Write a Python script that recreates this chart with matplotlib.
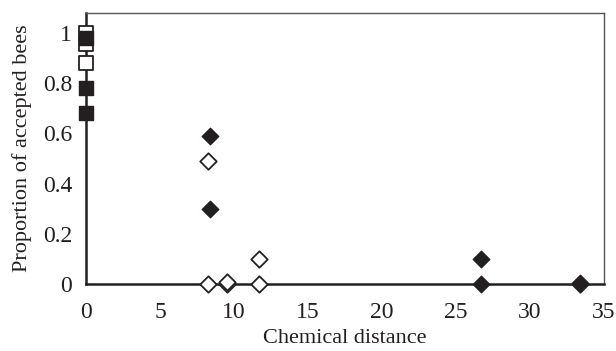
import matplotlib
matplotlib.use('Agg')
import matplotlib.pyplot as plt

# filled squares / open squares at distance 0
sq_filled_x = [0, 0, 0]
sq_filled_y = [0.98, 0.78, 0.68]
sq_open_x = [0, 0, 0]
sq_open_y = [1.0, 0.955, 0.88]

# diamonds
dia_filled_x = [8.4, 8.4, 26.7, 26.7, 33.4]
dia_filled_y = [0.59, 0.30, 0.10, 0.0, 0.005]
dia_open_x = [8.25, 8.25, 9.5, 9.55, 11.7, 11.7, 33.4]
dia_open_y = [0.49, 0.0, 0.0, 0.008, 0.10, 0.0, 0.0]

xticks = [0, 5, 10, 15, 20, 25, 30, 35]
yticks = [0, 0.2, 0.4, 0.6, 0.8, 1]
ytick_labels = ['0', '0.2', '0.4', '0.6', '0.8', '1']

plt.rcParams['font.family'] = ['Liberation Serif', 'DejaVu Serif']

fig = plt.figure(figsize=(6.16, 3.51), dpi=100)
ax = fig.add_axes([86 / 616, 67 / 351, (604 - 86) / 616, (284 - 13) / 351])

dark = '#231f20'
ax.scatter(dia_open_x, dia_open_y, marker='D', s=70, facecolors='white',
           edgecolors=dark, linewidths=1.3, zorder=3, clip_on=False)
ax.scatter(dia_filled_x, dia_filled_y, marker='D', s=70, facecolors=dark,
           edgecolors=dark, linewidths=1.0, zorder=4, clip_on=False)
ax.scatter(sq_open_x, sq_open_y, marker='s', s=110, facecolors='white',
           edgecolors=dark, linewidths=1.3, zorder=3, clip_on=False)
ax.scatter(sq_filled_x, sq_filled_y, marker='s', s=110, facecolors=dark,
           edgecolors=dark, linewidths=1.0, zorder=4, clip_on=False)

ax.set_xlim(0, 35)
ax.set_ylim(0, 1.08)
ax.set_xticks(xticks)
ax.set_yticks(yticks)
ax.set_yticklabels(ytick_labels)
ax.tick_params(length=0, labelsize=17, colors=dark)
ax.tick_params(axis='x', pad=13)
ax.tick_params(axis='y', pad=10)

for side in ['left', 'bottom']:
    ax.spines[side].set_linewidth(1.8)
    ax.spines[side].set_color(dark)
for side in ['top', 'right']:
    ax.spines[side].set_linewidth(1.0)
    ax.spines[side].set_color('#555555')

ax.set_xlabel('Chemical distance', fontsize=16, color=dark, labelpad=4)
ax.set_ylabel('Proportion of accepted bees', fontsize=16, color=dark, labelpad=8)

fig.savefig('out.png', dpi=100)
